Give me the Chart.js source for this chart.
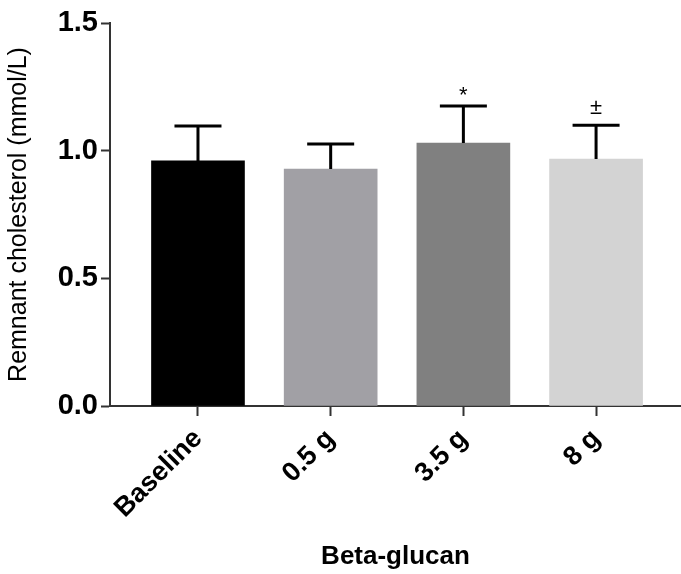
<!DOCTYPE html>
<html>
<head>
<meta charset="utf-8">
<script src="https://cdn.jsdelivr.net/npm/chart.js@4"></script>
<style>
    body { margin: 0; background: #fff; }
    #wrap { width: 681px; height: 574px; }
</style>
</head>
<body>
<div id="wrap"><canvas id="chart" width="681" height="574"></canvas></div>
<script>
// 数据
const categories = ['Baseline', '0.5 g', '3.5 g', '8 g'];
const means = [0.96, 0.928, 1.03, 0.967];
const sds = [0.137, 0.098, 0.145, 0.133];
const markers = ['', '', '*', '±'];
const barColors = ['#000000', '#a1a0a5', '#808080', '#d3d3d3'];
const yTicks = [0, 0.5, 1.0, 1.5];

const axisColor = '#333333';
const fontFamily = "'Liberation Sans', Arial, sans-serif";

// 误差线 + 显著性标记
const errorBars = {
    id: 'errorBars',
    afterDatasetsDraw(chart) {
        const { ctx, scales: { x, y } } = chart;
        ctx.save();
        ctx.strokeStyle = '#000';
        ctx.lineWidth = 3;
        ctx.lineCap = 'butt';
        means.forEach((m, i) => {
            const px = x.getPixelForValue(i);
            const yBar = y.getPixelForValue(m);
            const yTop = y.getPixelForValue(m + sds[i]);
            ctx.beginPath();
            ctx.moveTo(px, yBar);
            ctx.lineTo(px, yTop);
            ctx.moveTo(px - 23.5, yTop);
            ctx.lineTo(px + 23.5, yTop);
            ctx.stroke();
            if (markers[i]) {
                ctx.fillStyle = '#000';
                ctx.font = '22px ' + fontFamily;
                ctx.textAlign = 'center';
                ctx.textBaseline = 'alphabetic';
                // 让字形底部距离误差线帽固定间隔
                const desc = ctx.measureText(markers[i]).actualBoundingBoxDescent;
                ctx.fillText(markers[i], px, yTop - 11 - desc);
            }
        });
        ctx.restore();
    }
};

const ctx = document.getElementById('chart').getContext('2d');
new Chart(ctx, {
    type: 'bar',
    data: {
        datasets: [{
            data: means.map((v, i) => ({ x: i, y: v })),
            backgroundColor: barColors,
            borderWidth: 0,
            barThickness: 93
        }]
    },
    options: {
        responsive: false,
        animation: false,
        layout: { padding: { top: 23, right: 0, bottom: 0, left: 0 } },
        plugins: {
            legend: { display: false },
            tooltip: { enabled: false }
        },
        scales: {
            x: {
                type: 'linear',
                offset: false,
                min: -0.663,
                max: 3.64,
                afterBuildTicks: (axis) => {
                    axis.ticks = categories.map((c, i) => ({ value: i }));
                },
                afterFit: (axis) => { axis.height = 168; },
                border: { display: true, color: axisColor, width: 2 },
                grid: {
                    offset: false,
                    drawOnChartArea: false,
                    drawTicks: true,
                    tickLength: 10,
                    tickWidth: 2,
                    tickColor: axisColor
                },
                ticks: {
                    autoSkip: false,
                    minRotation: 45,
                    maxRotation: 45,
                    padding: 7,
                    color: '#000',
                    font: { family: fontFamily, size: 27, weight: 'bold' },
                    callback: (v) => categories[v]
                },
                title: {
                    display: true,
                    text: 'Beta-glucan',
                    color: '#000',
                    font: { family: fontFamily, size: 26, weight: 'bold' },
                    padding: { top: 0, bottom: 2 }
                }
            },
            y: {
                min: 0,
                max: 1.5,
                afterBuildTicks: (axis) => {
                    axis.ticks = yTicks.map(v => ({ value: v }));
                },
                afterFit: (axis) => { axis.width = 110; },
                border: { display: true, color: axisColor, width: 2 },
                grid: {
                    drawOnChartArea: false,
                    drawTicks: true,
                    tickLength: 9,
                    tickWidth: 2,
                    tickColor: axisColor
                },
                ticks: {
                    color: '#000',
                    padding: 3,
                    font: { family: fontFamily, size: 29, weight: 'bold' },
                    callback: (v) => v.toFixed(1)
                },
                title: {
                    display: true,
                    text: 'Remnant cholesterol (mmol/L)',
                    color: '#000',
                    font: { family: fontFamily, size: 25 },
                    padding: { top: 4, bottom: 4 }
                }
            }
        }
    },
    plugins: [errorBars]
});
</script>
</body>
</html>
